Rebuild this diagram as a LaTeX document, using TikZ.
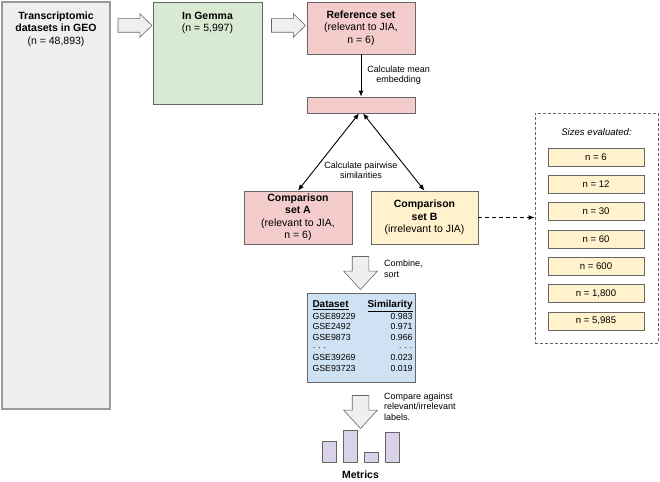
\documentclass[tikz,border=0pt]{standalone}
\usepackage{fontspec}
\setmainfont{Liberation Sans}
\usepackage{tikz}
\usetikzlibrary{arrows.meta,positioning,shapes.arrows}

\definecolor{geofill}{HTML}{EFEFEF}
\definecolor{geodraw}{HTML}{999999}
\definecolor{boxdraw}{HTML}{666666}
\definecolor{gemmafill}{HTML}{D9EAD3}
\definecolor{pinkfill}{HTML}{F4CCCC}
\definecolor{yellowfill}{HTML}{FFF2CC}
\definecolor{bluefill}{HTML}{CFE2F3}
\definecolor{purplefill}{HTML}{D9D2E9}

\begin{document}
\begin{tikzpicture}[x=1pt,y=-1pt]

\tikzset{
  box/.style={draw=boxdraw, line width=0.8pt, align=center, inner sep=2pt,
              font=\fontsize{10.5}{12.5}\selectfont},
  toptext/.style={align=center, inner sep=0pt, font=\fontsize{10.5}{12.5}\selectfont},
  smalltext/.style={align=center, inner sep=0pt, font=\fontsize{9}{10.2}\selectfont},
  sidetext/.style={align=left, inner sep=0pt, font=\fontsize{9}{10.5}\selectfont},
  sizebox/.style={draw=boxdraw, line width=0.6pt, fill=yellowfill, inner sep=0pt,
                  minimum width=96pt, minimum height=18pt, font=\fontsize{9.6}{10}\selectfont},
  bar/.style={draw=boxdraw, line width=0.6pt, fill=purplefill, anchor=south,
              inner sep=0pt, minimum width=14pt},
  fatright/.style={single arrow, draw=boxdraw, fill=geofill, line width=0.6pt,
                   inner xsep=0pt, inner ysep=6.5pt, minimum height=34pt,
                   single arrow head extend=5pt, single arrow tip angle=88},
  fatdown/.style={single arrow, draw=boxdraw, fill=geofill, line width=0.6pt,
                  inner xsep=0pt, inner ysep=8pt, minimum height=33pt,
                  single arrow head extend=8.5pt, single arrow tip angle=85,
                  rotate=-90},
  arrow/.style={black, line width=0.9pt, -{Latex[length=6pt, width=5pt]}},
  biarrow/.style={black, line width=0.9pt, {Latex[length=6pt, width=5pt]}-{Latex[length=6pt, width=5pt]}},
  dasharrow/.style={black, line width=0.9pt, dash pattern=on 4pt off 3pt,
                    -{Latex[length=6pt, width=5pt]}}
}

\useasboundingbox (0,0) rectangle (660,481);

% Sources
\node[box, fill=geofill, draw=geodraw, line width=1.2pt, minimum width=108pt, minimum height=407pt,
      label={[toptext, anchor=north, yshift=-10pt]north:{\textbf{Transcriptomic}\\\textbf{datasets in GEO}\\(n = 48,893)}}]
      (geo) at (56,205.5) {};
\node[box, fill=gemmafill, minimum width=109pt, minimum height=102pt,
      label={[toptext, anchor=north, yshift=-10pt]north:{\textbf{In Gemma}\\(n = 5,997)}}]
      (gemma) at (207.5,53) {};
\node[fatright] (arr1) at (131.5,25.5) {};
\node[fatright] (arr2) at (285,25.5) {};

% Reference set and mean embedding
\node[box, fill=pinkfill, minimum width=108pt, minimum height=52pt] (ref) at (361,28)
      {\textbf{Reference set}\\(relevant to JIA,\\n = 6)};
\node[box, fill=pinkfill, minimum width=108pt, minimum height=16pt] (mean) at (361,105) {};
\draw[arrow] (ref) -- node[smalltext, right=6pt] {Calculate mean\\embedding} (mean);

% Comparison sets
\node[box, fill=pinkfill, minimum width=108pt, minimum height=53pt] (compA) at (298,217.5)
      {\textbf{Comparison}\\\textbf{set A}\\(relevant to JIA,\\n = 6)};
\node[box, fill=yellowfill, minimum width=107pt, minimum height=53pt] (compB) at (424.5,217.5)
      {\textbf{Comparison}\\\textbf{set B}\\(irrelevant to JIA)};
\draw[biarrow] ([xshift=-2pt]mean.south) -- (compA.north);
\draw[biarrow] ([xshift=2pt]mean.south) -- (compB.north);
\node[smalltext] (pairlbl) at (361,170) {Calculate pairwise\\similarities};

% Sizes evaluated
\node[draw=boxdraw, line width=0.8pt, dash pattern=on 3pt off 2pt,
      minimum width=123pt, minimum height=230pt] (sizes) at (596.5,228) {};
\node[font=\fontsize{9.6}{10}\selectfont\itshape, inner sep=0pt] (sizetitle) at (596.5,132) {Sizes evaluated:};
\foreach \n [count=\i] in {6,12,30,60,600,{1,800},{5,985}}
  \node[sizebox] (s\i) at (596,{157+(\i-1)*27.3}) {n = \n};
\draw[dasharrow] (compB.east) -- (compB.east -| sizes.west);

% Combine and sort
\node[fatdown] (down1) at (360.5,268.5) {};
\node[sidetext, anchor=west] (combine) at (384,269) {Combine,\\sort};
\node[box, fill=bluefill, minimum width=108pt, minimum height=89pt, inner sep=0pt,
      font=\fontsize{8.8}{10.4}\selectfont] (table) at (361,337.5) {%
  \begin{tabular*}{97pt}{@{\extracolsep{\fill}}lr@{}}
    \fontsize{10}{12}\selectfont\underline{\textbf{Dataset}} & \fontsize{10}{12}\selectfont\underline{\textbf{Similarity}}\\[1pt]
    GSE89229 & 0.983\\
    GSE2492  & 0.971\\
    GSE9873  & 0.966\\
    · · · & · · ·\\
    GSE39269 & 0.023\\
    GSE93723 & 0.019
  \end{tabular*}};

% Metrics
\node[fatdown] (down2) at (360.5,407.5) {};
\node[sidetext, anchor=west] (compare) at (384,406.5) {Compare against\\relevant/irrelevant\\labels.};
\node[bar, minimum height=21pt] (bar1) at (329,463) {};
\node[bar, minimum height=32pt] (bar2) at (350,463) {};
\node[bar, minimum height=10pt] (bar3) at (371,463) {};
\node[bar, minimum height=30pt] (bar4) at (392.5,463) {};
\node[font=\fontsize{10.5}{12}\selectfont\bfseries, inner sep=0pt] (metrics) at (360.5,475) {Metrics};

\end{tikzpicture}
\end{document}
